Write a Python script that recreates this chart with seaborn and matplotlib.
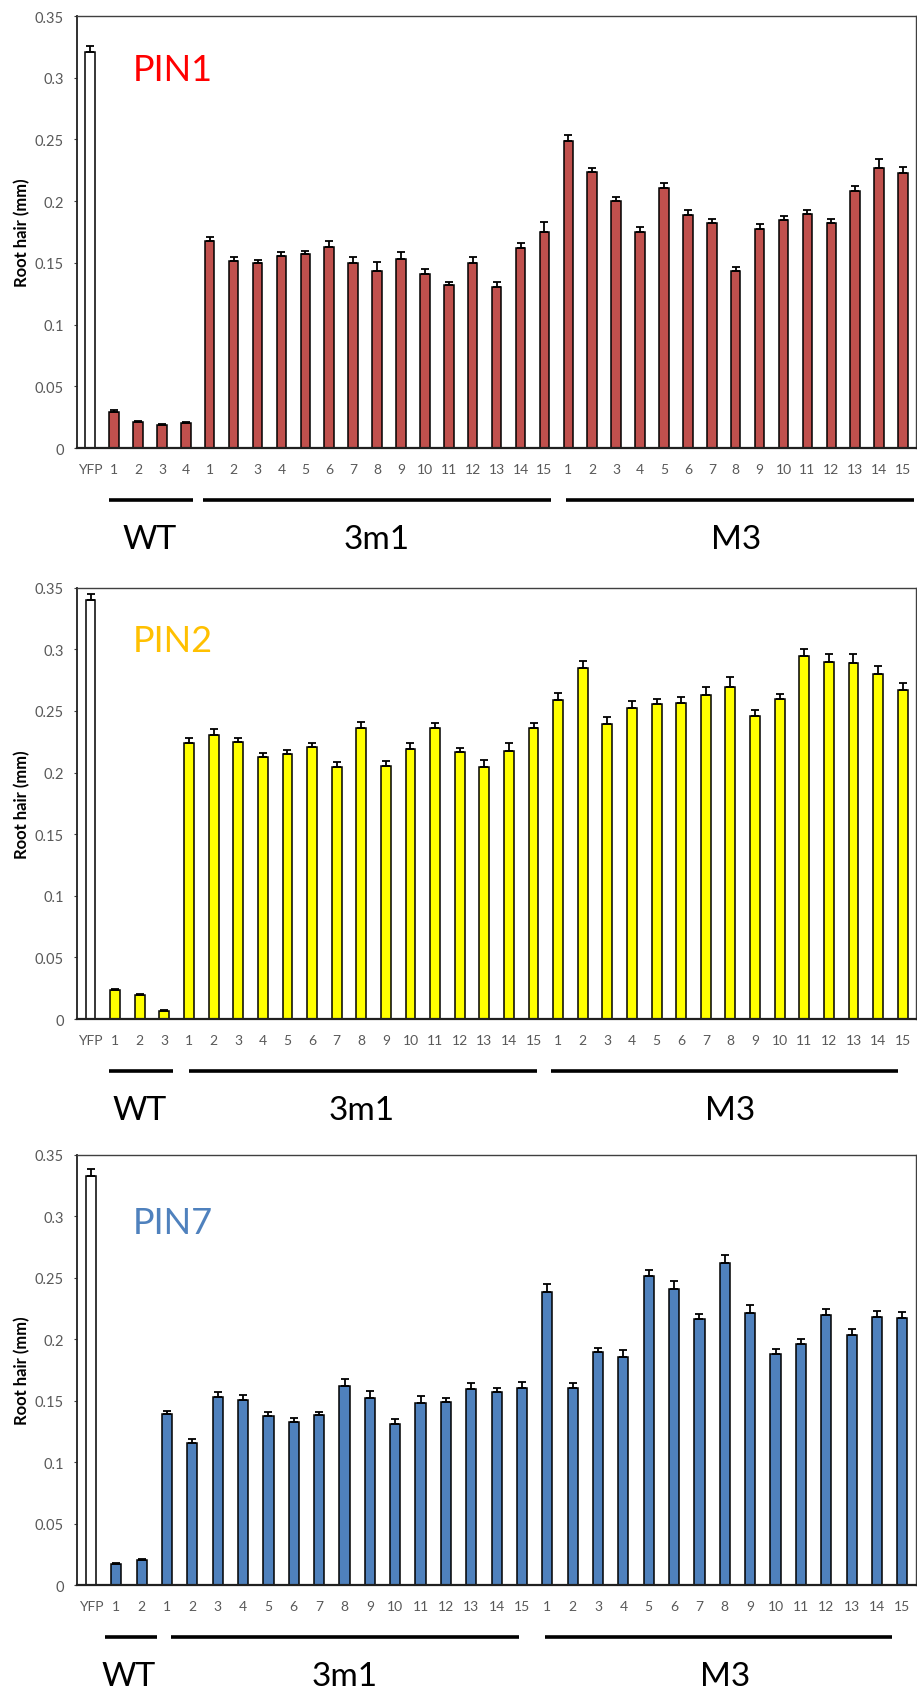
import matplotlib
matplotlib.use("Agg")
import numpy as np
import pandas as pd
import matplotlib.pyplot as plt
import matplotlib.transforms as mtransforms
from matplotlib.ticker import FuncFormatter, MultipleLocator
import seaborn as sns

# ---------------- data ----------------
pin1_yfp = 0.321
pin1_yfp_err = 0.005
pin1_wt = [0.0295, 0.0214, 0.0185, 0.0200]
pin1_wt_err = [0.0010, 0.0009, 0.0008, 0.0008]
pin1_3m1 = [0.1676, 0.1517, 0.1497, 0.1557, 0.1572, 0.1630, 0.1500, 0.1436,
            0.1534, 0.1410, 0.1317, 0.1500, 0.1306, 0.1618, 0.1754]
pin1_3m1_err = [0.0034, 0.0033, 0.0026, 0.0029, 0.0028, 0.0046, 0.0050, 0.0069,
                0.0056, 0.0043, 0.0032, 0.0050, 0.0037, 0.0047, 0.0078]
pin1_m3 = [0.2487, 0.2235, 0.2003, 0.1751, 0.2108, 0.1888, 0.1824, 0.1433,
           0.1772, 0.1844, 0.1896, 0.1827, 0.2084, 0.2273, 0.2226]
pin1_m3_err = [0.0052, 0.0032, 0.0032, 0.0041, 0.0037, 0.0037, 0.0034, 0.0037,
               0.0040, 0.0035, 0.0029, 0.0031, 0.0041, 0.0067, 0.0052]

pin2_yfp = 0.3396
pin2_yfp_err = 0.0052
pin2_wt = [0.0232, 0.0197, 0.0067]
pin2_wt_err = [0.0014, 0.0009, 0.0005]
pin2_3m1 = [0.2240, 0.2303, 0.2245, 0.2127, 0.2147, 0.2205, 0.2043, 0.2364,
            0.2057, 0.2190, 0.2358, 0.2164, 0.2046, 0.2176, 0.2364]
pin2_3m1_err = [0.0043, 0.0047, 0.0038, 0.0029, 0.0038, 0.0035, 0.0043, 0.0046,
                0.0033, 0.0050, 0.0042, 0.0036, 0.0052, 0.0064, 0.0041]
pin2_m3 = [0.2587, 0.2848, 0.2396, 0.2526, 0.2555, 0.2561, 0.2625, 0.2697,
           0.2457, 0.2593, 0.2947, 0.2900, 0.2886, 0.2802, 0.2666]
pin2_m3_err = [0.0058, 0.0058, 0.0052, 0.0053, 0.0038, 0.0052, 0.0072, 0.0076,
               0.0053, 0.0047, 0.0053, 0.0061, 0.0072, 0.0066, 0.0057]

pin7_yfp = 0.3323
pin7_yfp_err = 0.0057
pin7_wt = [0.0174, 0.0200]
pin7_wt_err = [0.0009, 0.0009]
pin7_3m1 = [0.1391, 0.1156, 0.1531, 0.1505, 0.1377, 0.1322, 0.1380, 0.1618,
            0.1525, 0.1310, 0.1478, 0.1490, 0.1598, 0.1566, 0.1603]
pin7_3m1_err = [0.0023, 0.0032, 0.0040, 0.0040, 0.0032, 0.0037, 0.0029, 0.0058,
                0.0049, 0.0038, 0.0059, 0.0035, 0.0043, 0.0037, 0.0050]
pin7_m3 = [0.2379, 0.1606, 0.1894, 0.1856, 0.2515, 0.2411, 0.2161, 0.2620,
           0.2213, 0.1879, 0.1960, 0.2193, 0.2033, 0.2178, 0.2173]
pin7_m3_err = [0.0070, 0.0041, 0.0035, 0.0052, 0.0047, 0.0058, 0.0041, 0.0067,
               0.0067, 0.0038, 0.0041, 0.0049, 0.0047, 0.0047, 0.0047]

group_names = ["WT", "3m1", "M3"]
panel_titles = ["PIN1", "PIN2", "PIN7"]
y_label = "Root hair (mm)"
y_ticks = [0, 0.05, 0.1, 0.15, 0.2, 0.25, 0.3, 0.35]

# ---------------- styling ----------------
bar_colors = ["#C0504D", "#FFFF00", "#4F81BD"]
title_colors = ["#FF0000", "#FFC000", "#4F81BD"]
title_pos = [(0.0667, 0.851), (0.0667, 0.853), (0.0667, 0.819)]
# bracket extents (offset from first / last bar of each group, in bar units)
bracket_pads = [
    [(-0.23, 0.28), (-0.30, 0.27), (-0.11, 0.45)],
    [(-0.27, 0.33), (-0.02, 0.13), (-0.30, -0.20)],
    [(-0.45, 0.60), (0.15, -0.10), (-0.10, -0.40)],
]
axes_rects = [
    (0.0840, 0.7343, 0.9146, 0.2556),
    (0.0840, 0.3964, 0.9146, 0.2553),
    (0.0840, 0.0615, 0.9146, 0.2547),
]

sns.set_style("white")
plt.rcParams["font.family"] = ["Lato", "DejaVu Sans"]

fig = plt.figure(figsize=(9.17, 16.90), dpi=100)

panels = [
    (pin1_yfp, pin1_yfp_err, pin1_wt, pin1_wt_err, pin1_3m1, pin1_3m1_err, pin1_m3, pin1_m3_err),
    (pin2_yfp, pin2_yfp_err, pin2_wt, pin2_wt_err, pin2_3m1, pin2_3m1_err, pin2_m3, pin2_m3_err),
    (pin7_yfp, pin7_yfp_err, pin7_wt, pin7_wt_err, pin7_3m1, pin7_3m1_err, pin7_m3, pin7_m3_err),
]

for p, (yfp, yfp_err, wt, wt_err, g1, g1_err, g2, g2_err) in enumerate(panels):
    ax = fig.add_axes(axes_rects[p])
    groups = [wt, g1, g2]
    keys = ["YFP"]
    labels = ["YFP"]
    for gname, vals in zip(group_names, groups):
        for i in range(len(vals)):
            keys.append(f"{gname}-{i + 1}")
            labels.append(str(i + 1))
    values = [yfp] + list(wt) + list(g1) + list(g2)
    errs = [yfp_err] + list(wt_err) + list(g1_err) + list(g2_err)
    n = len(values)
    colors = ["white"] + [bar_colors[p]] * (n - 1)
    df = pd.DataFrame({"key": keys, "value": values})

    sns.barplot(data=df, x="key", y="value", hue="key", order=keys, hue_order=keys,
                palette=colors, legend=False, width=0.4, saturation=1,
                edgecolor="black", linewidth=1.1, errorbar=None, ax=ax, zorder=2)
    xpos = np.arange(n)
    ax.errorbar(xpos, values, yerr=[np.zeros(n), errs], fmt="none", ecolor="black",
                elinewidth=1.3, capsize=2.6, capthick=1.3, zorder=3)

    ax.set_xlim(-0.55, n - 1 + 0.53)
    ax.set_ylim(0, 0.35)
    ax.set_yticks(y_ticks)
    ax.yaxis.set_major_formatter(FuncFormatter(lambda v, _: f"{v:g}"))
    ax.set_xticks(xpos)
    ax.set_xticklabels(labels)
    ax.set_xlabel("")
    ax.set_ylabel(y_label, fontsize=12, fontweight="bold", color="black")
    ax.yaxis.set_label_coords(-0.056, 0.5)

    ax.tick_params(axis="y", which="major", left=True, direction="out", length=2.2,
                   width=0.8, pad=7.5, labelsize=10.5, labelcolor="#595959", color="#404040")
    ax.tick_params(axis="x", which="major", bottom=False, length=0, pad=10.5,
                   labelsize=10, labelcolor="#595959")
    for side in ["top", "right"]:
        ax.spines[side].set_visible(True)
        ax.spines[side].set_color("#404040")
        ax.spines[side].set_linewidth(1.0)
    ax.spines["left"].set_color("#202020")
    ax.spines["left"].set_linewidth(1.3)
    ax.spines["bottom"].set_color("#202020")
    ax.spines["bottom"].set_linewidth(1.6)

    ax.text(title_pos[p][0], title_pos[p][1], panel_titles[p], transform=ax.transAxes,
            color=title_colors[p], fontsize=26, ha="left", va="baseline")

    trans = mtransforms.blended_transform_factory(ax.transData, ax.transAxes)
    start = 1
    for gi, (gname, vals) in enumerate(zip(group_names, groups)):
        end = start + len(vals) - 1
        lpad, rpad = bracket_pads[p][gi]
        ax.plot([start + lpad, end + rpad], [-0.12, -0.12], transform=trans,
                color="black", lw=2.6, solid_capstyle="butt", clip_on=False)
        ax.text((start + end) / 2, -0.232, gname, transform=trans, ha="center",
                va="baseline", fontsize=24, color="black", clip_on=False)
        start = end + 1

fig.savefig("out.png", dpi=100)
